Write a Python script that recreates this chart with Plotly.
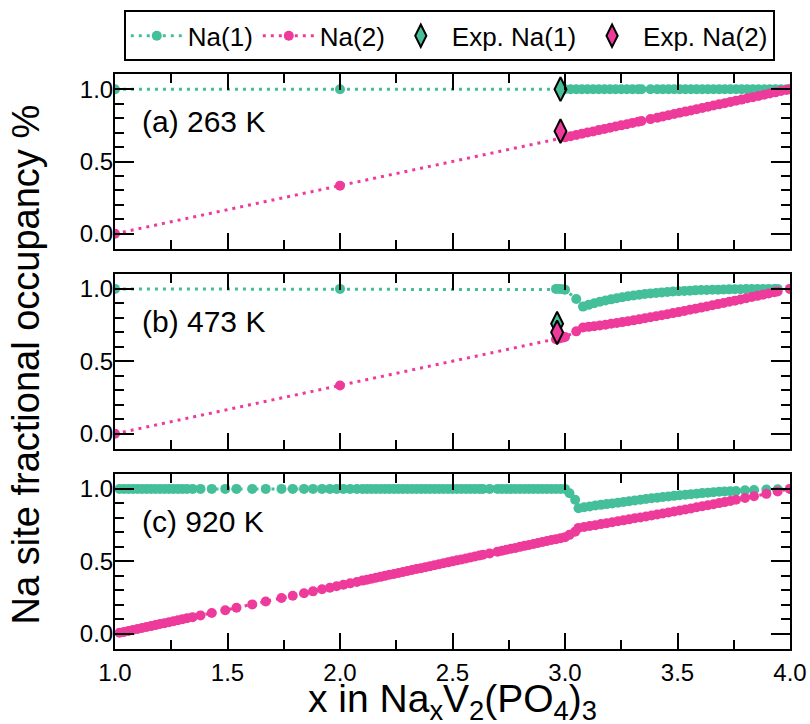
import plotly.graph_objects as go

# ---------------- data ----------------
# (a) 263 K
x_a = [1.0, 2.0,
       3.000, 3.025, 3.050, 3.075, 3.100, 3.125, 3.150, 3.175, 3.200, 3.225, 3.250, 3.275, 3.300, 3.325,
       3.340, 3.380,
       3.410, 3.435, 3.460, 3.485, 3.510, 3.535, 3.560, 3.585, 3.610, 3.635, 3.660, 3.685, 3.710, 3.735,
       3.760, 3.785, 3.810, 3.835, 3.860, 3.885, 3.910, 3.935, 3.960, 3.985, 4.000]
na1_a = [1.0, 1.0,
         1.0, 1.0, 1.0, 1.0, 1.0, 1.0, 1.0, 1.0, 1.0, 1.0, 1.0, 1.0, 1.0, 1.0,
         1.0, 1.0,
         1.0, 1.0, 1.0, 1.0, 1.0, 1.0, 1.0, 1.0, 1.0, 1.0, 1.0, 1.0, 1.0, 1.0,
         1.0, 1.0, 1.0, 1.0, 1.0, 1.0, 1.0, 1.0, 1.0, 1.0, 1.0]
na2_a = [0.0, 0.333,
         0.667, 0.675, 0.683, 0.692, 0.700, 0.708, 0.717, 0.725, 0.733, 0.742, 0.750, 0.758, 0.767, 0.775,
         0.780, 0.793,
         0.803, 0.812, 0.820, 0.828, 0.837, 0.845, 0.853, 0.862, 0.870, 0.878, 0.887, 0.895, 0.903, 0.912,
         0.920, 0.928, 0.937, 0.945, 0.953, 0.962, 0.970, 0.978, 0.987, 0.995, 1.000]
exp_x_a = [2.98]
exp_na1_a = [1.0]
exp_na2_a = [0.71]

# (b) 473 K
x_b = [1.0, 2.0, 2.960, 2.975, 2.990, 3.000, 3.050,
       3.080, 3.105, 3.130, 3.155, 3.180, 3.205, 3.230, 3.255, 3.280, 3.305,
       3.330, 3.355, 3.380, 3.405, 3.430, 3.455, 3.480, 3.505, 3.530, 3.555,
       3.580, 3.605, 3.630, 3.655, 3.680, 3.705, 3.730, 3.755, 3.780, 3.805,
       3.830, 3.855, 3.880, 3.905, 3.930, 3.945, 4.000]
na1_b = [1.0, 1.0, 1.0, 1.0, 0.998, 0.995, 0.930,
         0.878, 0.890, 0.901, 0.911, 0.920, 0.928, 0.936, 0.943, 0.949, 0.955,
         0.960, 0.965, 0.969, 0.972, 0.976, 0.979, 0.982, 0.984, 0.986, 0.988,
         0.990, 0.992, 0.993, 0.994, 0.995, 0.996, 0.997, 0.998, 0.998, 0.999,
         0.999, 1.0, 1.0, 1.0, 1.0, 1.0, 1.0]
na2_b = [0.0, 0.333, 0.653, 0.658, 0.664, 0.668, 0.707,
         0.734, 0.738, 0.743, 0.748, 0.753, 0.759, 0.765, 0.771, 0.777, 0.783,
         0.790, 0.797, 0.804, 0.811, 0.818, 0.825, 0.833, 0.840, 0.848, 0.856,
         0.863, 0.871, 0.879, 0.887, 0.895, 0.903, 0.911, 0.919, 0.927, 0.935,
         0.944, 0.952, 0.960, 0.968, 0.977, 0.982, 1.000]
exp_x_b = [2.965]
exp_na1_b = [0.76]
exp_na2_b = [0.70]

# (c) 920 K
x_c = [1.02, 1.04, 1.06, 1.08, 1.10, 1.12, 1.14, 1.16, 1.18, 1.20, 1.22, 1.24, 1.26, 1.28, 1.30, 1.32,
       1.345, 1.38, 1.43, 1.49, 1.54, 1.61, 1.67, 1.74, 1.79, 1.84, 1.88, 1.92, 1.955, 1.985, 2.015,
       2.045, 2.075, 2.10,
       2.12, 2.14, 2.16, 2.18, 2.20, 2.22, 2.24, 2.26, 2.28, 2.30, 2.32, 2.34, 2.36, 2.38, 2.40,
       2.42, 2.44, 2.46, 2.48, 2.50, 2.52, 2.54, 2.56, 2.58, 2.60, 2.62,
       2.635, 2.665,
       2.70, 2.72, 2.74, 2.76, 2.78, 2.80, 2.82, 2.84, 2.86, 2.88, 2.90, 2.92, 2.94, 2.96, 2.98, 3.00,
       3.02, 3.045,
       3.060, 3.085, 3.110, 3.135, 3.160, 3.185, 3.210, 3.235, 3.260, 3.285, 3.310, 3.335, 3.360,
       3.385, 3.410, 3.435, 3.460, 3.485, 3.510, 3.535, 3.560, 3.585, 3.610, 3.635, 3.660, 3.685,
       3.710, 3.735, 3.760,
       3.80, 3.84, 3.895, 3.945, 4.00]
na1_c = [1.0, 1.0, 1.0, 1.0, 1.0, 1.0, 1.0, 1.0, 1.0, 1.0, 1.0, 1.0, 1.0, 1.0, 1.0, 1.0,
         1.0, 1.0, 1.0, 1.0, 1.0, 1.0, 1.0, 1.0, 1.0, 1.0, 1.0, 1.0, 1.0, 1.0, 1.0,
         1.0, 1.0, 1.0,
         1.0, 1.0, 1.0, 1.0, 1.0, 1.0, 1.0, 1.0, 1.0, 1.0, 1.0, 1.0, 1.0, 1.0, 1.0,
         1.0, 1.0, 1.0, 1.0, 1.0, 1.0, 1.0, 1.0, 1.0, 1.0, 1.0,
         1.0, 1.0,
         1.0, 1.0, 1.0, 1.0, 1.0, 1.0, 1.0, 1.0, 1.0, 1.0, 1.0, 1.0, 1.0, 1.0, 1.0, 1.0,
         0.970, 0.925,
         0.867, 0.873, 0.879, 0.885, 0.890, 0.895, 0.900, 0.905, 0.910, 0.915, 0.920, 0.925, 0.930,
         0.935, 0.939, 0.944, 0.948, 0.952, 0.956, 0.960, 0.964, 0.967, 0.971, 0.974, 0.977, 0.980,
         0.982, 0.984, 0.986,
         0.990, 0.993, 0.996, 0.998, 1.000]
na2_c = [0.007, 0.013, 0.020, 0.027, 0.033, 0.040, 0.047, 0.053, 0.060, 0.067, 0.073, 0.080, 0.087,
         0.093, 0.100, 0.107,
         0.115, 0.127, 0.143, 0.163, 0.180, 0.203, 0.223, 0.247, 0.263, 0.280, 0.293, 0.307, 0.318,
         0.328, 0.338, 0.348, 0.358, 0.367,
         0.373, 0.380, 0.387, 0.393, 0.400, 0.407, 0.413, 0.420, 0.427, 0.433, 0.440, 0.447, 0.453,
         0.460, 0.467, 0.473, 0.480, 0.487, 0.493, 0.500, 0.507, 0.513, 0.520, 0.527, 0.533, 0.540,
         0.545, 0.555,
         0.567, 0.573, 0.580, 0.587, 0.593, 0.600, 0.607, 0.613, 0.620, 0.627, 0.633, 0.640, 0.647,
         0.653, 0.660, 0.667,
         0.683, 0.705,
         0.731, 0.737, 0.744, 0.750, 0.757, 0.763, 0.770, 0.777, 0.783, 0.790, 0.797, 0.803, 0.810,
         0.817, 0.824, 0.830, 0.837, 0.844, 0.851, 0.858, 0.865, 0.873, 0.880, 0.887, 0.894, 0.902,
         0.909, 0.917, 0.925,
         0.937, 0.949, 0.966, 0.982, 1.000]

panel_labels = ["(a) 263 K", "(b) 473 K", "(c) 920 K"]
series_names = ["Na(1)", "Na(2)", "Exp. Na(1)", "Exp. Na(2)"]
x_ticks = [1.0, 1.5, 2.0, 2.5, 3.0, 3.5, 4.0]
y_ticks = [0.0, 0.5, 1.0]

for xs, a, b in [(x_a, na1_a, na2_a), (x_b, na1_b, na2_b), (x_c, na1_c, na2_c)]:
    assert len(xs) == len(a) == len(b)

# ---------------- style ----------------
TEAL = "#44BF9A"
PINK = "#EE3A9B"
FONT = "Liberation Sans, Arial, Helvetica, sans-serif"
DOT = "3px,5px"

fig = go.Figure()

panels = [
    ("x3", "y3", x_a, na1_a, na2_a, exp_x_a, exp_na1_a, exp_na2_a, True),
    ("x2", "y2", x_b, na1_b, na2_b, exp_x_b, exp_na1_b, exp_na2_b, False),
    ("x", "y", x_c, na1_c, na2_c, None, None, None, False),
]

for xa, ya, xs, n1, n2, ex, e1, e2, leg in panels:
    fig.add_trace(go.Scatter(x=xs, y=n1, xaxis=xa, yaxis=ya, mode="lines+markers",
                             name=series_names[0], showlegend=leg, legendrank=1,
                             line=dict(color=TEAL, width=3, dash=DOT),
                             marker=dict(color=TEAL, size=10)))
    fig.add_trace(go.Scatter(x=xs, y=n2, xaxis=xa, yaxis=ya, mode="lines+markers",
                             name=series_names[1], showlegend=leg, legendrank=2,
                             line=dict(color=PINK, width=3, dash=DOT),
                             marker=dict(color=PINK, size=10)))
    if ex is not None:
        fig.add_trace(go.Scatter(x=ex, y=e1, xaxis=xa, yaxis=ya, mode="markers",
                                 name=series_names[2], showlegend=leg, legendrank=3,
                                 marker=dict(symbol="diamond-tall", color=TEAL, size=17,
                                             line=dict(color="black", width=2))))
        fig.add_trace(go.Scatter(x=ex, y=e2, xaxis=xa, yaxis=ya, mode="markers",
                                 name=series_names[3], showlegend=leg, legendrank=4,
                                 marker=dict(symbol="diamond-tall", color=PINK, size=17,
                                             line=dict(color="black", width=2))))

def xaxis(anchor, labels):
    return dict(anchor=anchor, range=[1, 4], showline=True, linecolor="black", linewidth=2,
                mirror="ticks", ticks="inside", ticklen=16, tickwidth=2, tickcolor="black",
                tickvals=x_ticks, tickformat=".1f", showticklabels=labels,
                ticklabelstandoff=1,
                minor=dict(dtick=0.25, tick0=1, ticks="inside", ticklen=9, tickwidth=2,
                           tickcolor="black"),
                showgrid=False, zeroline=False,
                tickfont=dict(size=24, color="black", family=FONT))

def yaxis(anchor, domain):
    return dict(anchor=anchor, domain=domain, range=[-0.105, 1.105], showline=True,
                linecolor="black", linewidth=2, mirror="ticks", ticks="inside", ticklen=19,
                tickwidth=2, tickcolor="black", tickvals=y_ticks, tickformat=".1f",
                ticklabelstandoff=-5,
                minor=dict(dtick=0.1, tick0=0, ticks="inside", ticklen=9, tickwidth=2,
                           tickcolor="black"),
                showgrid=False, zeroline=False,
                tickfont=dict(size=24, color="black", family=FONT))

H = 575.0
fig.update_layout(
    width=810, height=724,
    margin=dict(l=115, r=20, t=74, b=75, autoexpand=False),
    paper_bgcolor="white", plot_bgcolor="white",
    font=dict(family=FONT, color="black"),
    xaxis=xaxis("y", True),
    xaxis2=xaxis("y2", False),
    xaxis3=xaxis("y3", False),
    yaxis=yaxis("x", [0, 175.3 / H]),
    yaxis2=yaxis("x2", [200 / H, 375.3 / H]),
    yaxis3=yaxis("x3", [400 / H, 1.0]),
    showlegend=True,
    legend=dict(orientation="h", x=0.013, y=1 + (73.7 - 10) / H, xanchor="left", yanchor="top",
                bordercolor="black", borderwidth=2, bgcolor="white", itemwidth=52,
                font=dict(size=26, color="black", family=FONT), traceorder="normal"),
)

for lab, xa, ya in zip(panel_labels, ["x3", "x2", "x"], ["y3", "y2", "y"]):
    fig.add_annotation(text=lab, x=1.11, y=0.775, xref=xa, yref=ya, xanchor="left",
                       yanchor="middle", showarrow=False,
                       font=dict(size=30, color="black", family=FONT))

fig.add_annotation(text="x in Na<sub>x</sub>V<sub>2</sub>(PO<sub>4</sub>)<sub>3</sub>",
                   xref="paper", yref="paper", x=0.5, y=(649 - 701) / H,
                   xanchor="center", yanchor="middle", showarrow=False,
                   font=dict(size=39, color="black", family=FONT))
fig.add_annotation(text="Na site fractional occupancy %", xref="paper", yref="paper",
                   x=(26 - 115) / 675.0, y=0.495, xanchor="center", yanchor="middle",
                   textangle=-90, showarrow=False,
                   font=dict(size=38, color="black", family=FONT))

# remove the default 8 px page margin so the 810x724 figure fills the window exactly
fig.write_html("out.html", config={"displayModeBar": False},
               post_script="document.body.style.margin='0px';"
                           "document.body.style.overflow='hidden';")
